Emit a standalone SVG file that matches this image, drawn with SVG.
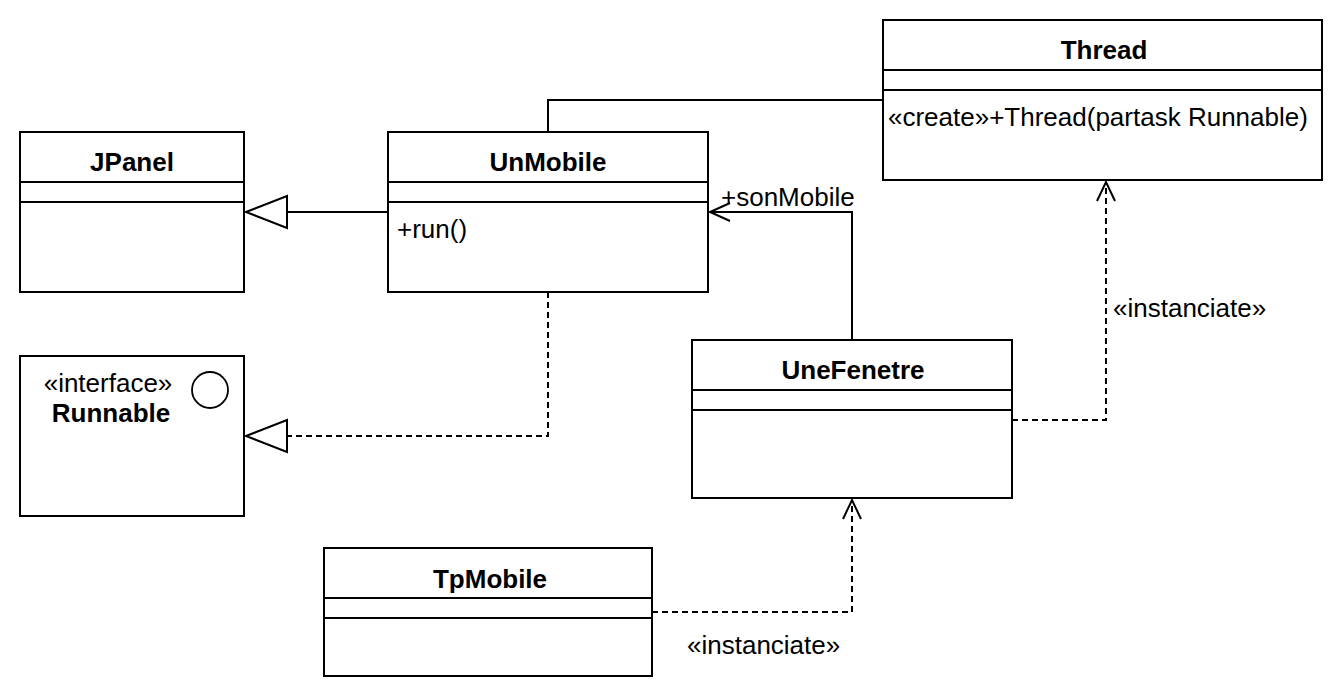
<svg xmlns="http://www.w3.org/2000/svg" width="1342" height="696" viewBox="0 0 1342 696">
  <style>
    .box { fill: #ffffff; stroke: #000000; stroke-width: 2; }
    .sep { stroke: #000000; stroke-width: 2; fill: none; }
    .t { font-family: "Liberation Sans", Arial, Helvetica, sans-serif; font-size: 26px; fill: #000000; }
    .name { font-weight: bold; text-anchor: middle; }
    .line { fill: none; stroke: #000000; stroke-width: 2; }
    .dash { stroke-dasharray: 6 4; }
    .hollow { fill: #ffffff; stroke: #000000; stroke-width: 2; }
    .open { fill: none; stroke: #000000; stroke-width: 2; }
  </style>
  <rect width="1342" height="696" fill="#ffffff"/>

  <g id="connectors">
    <!-- UnMobile extends JPanel -->
    <g id="e-unmobile-jpanel">
      <path class="line" d="M388 212 H287"/>
      <polygon class="hollow" points="246,212 287,196 287,228"/>
    </g>
    <!-- UnMobile implements Runnable -->
    <g id="e-unmobile-runnable">
      <path class="line dash" d="M548 292 V436 H287"/>
      <polygon class="hollow" points="246,436 287,420 287,452"/>
    </g>
    <!-- UnMobile - Thread -->
    <g id="e-unmobile-thread">
      <path class="line" d="M548 132 V100 H883"/>
    </g>
    <!-- UneFenetre -> UnMobile (+sonMobile) -->
    <g id="e-unefenetre-unmobile">
      <path class="line" d="M852 340 V212 H710"/>
      <path class="open" d="M730 203 L710 212 L730 221"/>
      <text class="t" x="721" y="206">+sonMobile</text>
    </g>
    <!-- UneFenetre -> Thread «instanciate» -->
    <g id="e-unefenetre-thread">
      <path class="line dash" d="M1012 420 H1106 V182"/>
      <path class="open" d="M1097 201 L1106 182 L1115 201"/>
      <text class="t" x="1113" y="317">«instanciate»</text>
    </g>
    <!-- TpMobile -> UneFenetre «instanciate» -->
    <g id="e-tpmobile-unefenetre">
      <path class="line dash" d="M652 612 H852 V500"/>
      <path class="open" d="M843 519 L852 500 L861 519"/>
      <text class="t" x="687" y="654">«instanciate»</text>
    </g>
  </g>

  <g id="JPanel">
    <rect class="box" x="20" y="132" width="224" height="160"/>
    <path class="sep" d="M20 182 H244 M20 202 H244"/>
    <text class="t name" x="132" y="171">JPanel</text>
  </g>

  <g id="UnMobile">
    <rect class="box" x="388" y="132" width="320" height="160"/>
    <path class="sep" d="M388 182 H708 M388 202 H708"/>
    <text class="t name" x="548" y="171">UnMobile</text>
    <text class="t" x="397" y="238">+run()</text>
  </g>

  <g id="Runnable">
    <rect class="box" x="20" y="356" width="224" height="160"/>
    <circle cx="210" cy="390" r="18" fill="none" stroke="#000000" stroke-width="1.8"/>
    <text class="t" x="108" y="392" text-anchor="middle">«interface»</text>
    <text class="t name" x="111" y="422">Runnable</text>
  </g>

  <g id="Thread">
    <rect class="box" x="883" y="20" width="439" height="160"/>
    <path class="sep" d="M883 70 H1322 M883 90 H1322"/>
    <text class="t name" x="1104" y="59">Thread</text>
    <text class="t" x="888" y="126">«create»+Thread(partask Runnable)</text>
  </g>

  <g id="UneFenetre">
    <rect class="box" x="692" y="340" width="320" height="158"/>
    <path class="sep" d="M692 390 H1012 M692 410 H1012"/>
    <text class="t name" x="853" y="379">UneFenetre</text>
  </g>

  <g id="TpMobile">
    <rect class="box" x="324" y="548" width="328" height="128"/>
    <path class="sep" d="M324 598 H652 M324 618 H652"/>
    <text class="t name" x="490" y="588">TpMobile</text>
  </g>
</svg>
